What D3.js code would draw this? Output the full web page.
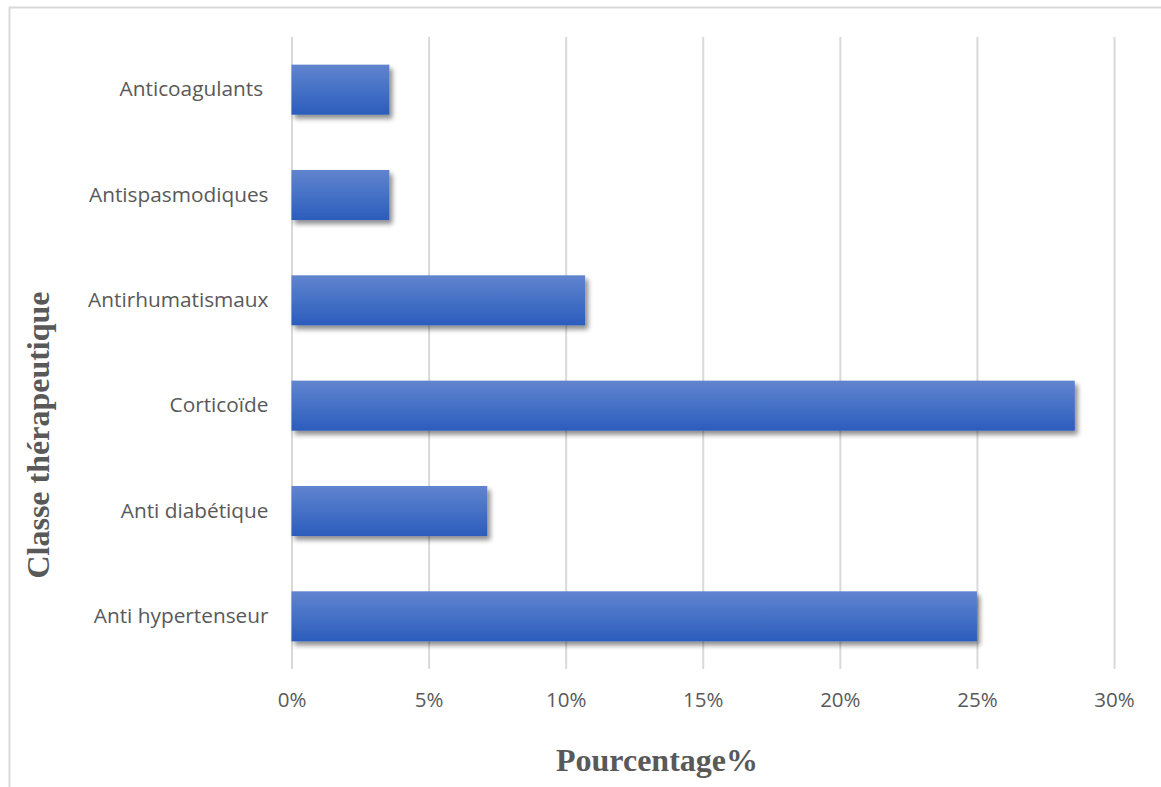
<!DOCTYPE html>
<html>
<head>
<meta charset="utf-8">
<script src="https://cdn.jsdelivr.net/npm/d3@7"></script>
<style>
  html, body { margin: 0; padding: 0; background: #fff; }
  svg { display: block; }
</style>
</head>
<body>
<svg id="chart" width="1161" height="787"></svg>
<script>
// Therapeutic classes, top to bottom, and their share (%)
const categories = ["Anticoagulants ", "Antispasmodiques", "Antirhumatismaux", "Corticoïde", "Anti diabétique", "Anti hypertenseur"];
const percentages = [3.57, 3.57, 10.71, 28.57, 7.14, 25.00];
const xTicks = [0, 5, 10, 15, 20, 25, 30];
const xTitle = "Pourcentage%";
const yTitle = "Classe thérapeutique";

const data = categories.map((c, i) => ({ name: c, value: percentages[i] }));

const svg = d3.select("#chart");
const W = 1161, H = 787;
const plot = { left: 291.5, right: 1114, top: 37, bottom: 669 };
const textColor = "#595959";
const gridColor = "#D9D9D9";

// Outer chart frame
svg.append("rect")
  .attr("x", 9.5).attr("y", 7.5)
  .attr("width", W + 20).attr("height", H + 20)
  .attr("fill", "none").attr("stroke", gridColor).attr("stroke-width", 2);

const x = d3.scaleLinear().domain([0, 30]).range([plot.left, plot.right]);
const y = d3.scaleBand().domain(categories).range([plot.top, plot.bottom])
  .paddingInner(0.525).paddingOuter(0.2625);

const defs = svg.append("defs");
const grad = defs.append("linearGradient").attr("id", "barGrad")
  .attr("x1", 0).attr("y1", 0).attr("x2", 0).attr("y2", 1);
grad.append("stop").attr("offset", "0%").attr("stop-color", "#6184CF");
grad.append("stop").attr("offset", "50%").attr("stop-color", "#4571C6");
grad.append("stop").attr("offset", "100%").attr("stop-color", "#2C5CBC");

const shadow = defs.append("filter").attr("id", "barShadow")
  .attr("x", "-10%").attr("y", "-20%").attr("width", "130%").attr("height", "160%");
shadow.append("feGaussianBlur").attr("in", "SourceAlpha").attr("stdDeviation", 2.5).attr("result", "blur");
shadow.append("feOffset").attr("in", "blur").attr("dx", 3).attr("dy", 4).attr("result", "off");
shadow.append("feComponentTransfer").attr("in", "off").attr("result", "soft")
  .append("feFuncA").attr("type", "linear").attr("slope", 0.45);
const merge = shadow.append("feMerge");
merge.append("feMergeNode").attr("in", "soft");
merge.append("feMergeNode").attr("in", "SourceGraphic");

// Vertical gridlines with percentage labels
const xAxis = d3.axisBottom(x).tickValues(xTicks)
  .tickSize(-(plot.bottom - plot.top)).tickPadding(0)
  .tickFormat(d => d + "%");
const gx = svg.append("g").attr("transform", `translate(0,${plot.bottom})`).call(xAxis);
gx.select(".domain").remove();
gx.selectAll(".tick line").attr("stroke", gridColor).attr("stroke-width", 2);
gx.selectAll(".tick text")
  .attr("y", 38)
  .attr("dy", 0)
  .attr("fill", textColor)
  .style("font-family", "'Open Sans', sans-serif")
  .style("font-size", "20.5px");

// Bars
svg.append("g").selectAll("rect").data(data).join("rect")
  .attr("x", x(0))
  .attr("y", d => y(d.name))
  .attr("width", d => x(d.value) - x(0))
  .attr("height", y.bandwidth())
  .attr("fill", "url(#barGrad)")
  .attr("filter", "url(#barShadow)");

// Category labels
const yAxis = d3.axisLeft(y).tickSize(0).tickPadding(23);
const gy = svg.append("g").attr("transform", `translate(${plot.left},0)`).call(yAxis);
gy.select(".domain").remove();
gy.selectAll(".tick text")
  .attr("fill", textColor)
  .style("white-space", "pre")
  .style("font-family", "'Open Sans', sans-serif")
  .style("font-size", "20.8px");

// Axis titles
svg.append("text")
  .attr("x", 657).attr("y", 771)
  .attr("text-anchor", "middle")
  .attr("fill", textColor)
  .style("font-family", "'Liberation Serif', 'Times New Roman', serif")
  .style("font-weight", "bold")
  .style("font-size", "32px")
  .text(xTitle);

svg.append("text")
  .attr("transform", "translate(49,435) rotate(-90)")
  .attr("text-anchor", "middle")
  .attr("fill", textColor)
  .style("font-family", "'Liberation Serif', 'Times New Roman', serif")
  .style("font-weight", "bold")
  .style("font-size", "32px")
  .text(yTitle);
</script>
</body>
</html>
